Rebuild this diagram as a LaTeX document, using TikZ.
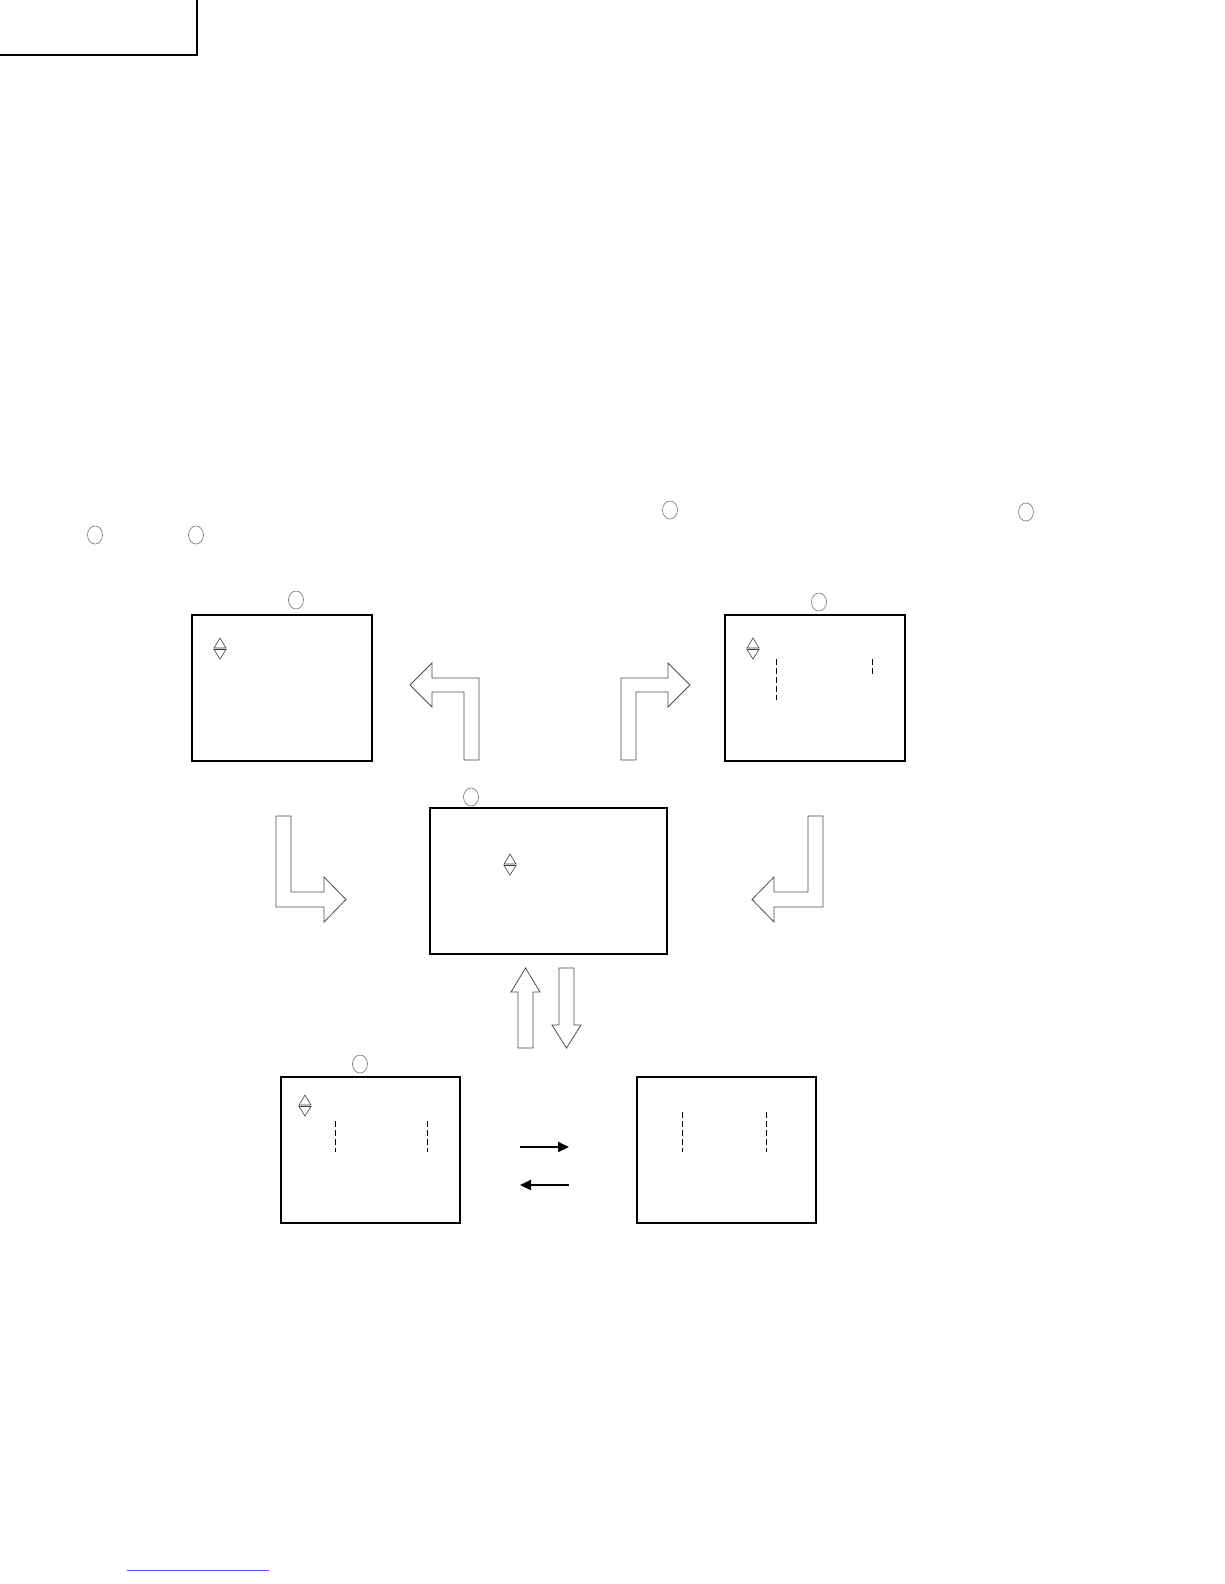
\documentclass[tikz,border=0pt]{standalone}
\usetikzlibrary{arrows.meta,shapes.geometric}

\begin{document}
\begin{tikzpicture}[
    x = 1pt, y = -1pt,
    screen/.style = {draw, line width = 1.1pt, inner sep = 0pt,
        minimum width = 180pt, minimum height = 146pt},
    tag/.style = {ellipse, draw = black!55, line width = 0.6pt, inner sep = 0pt,
        minimum width = 15pt, minimum height = 18pt},
    bigarrow/.style = {draw = black!70, line width = 0.8pt},
    guide/.style = {line width = 1pt, dash pattern = on 6pt off 3pt},
    flow/.style = {line width = 2pt, -{Triangle[length = 11pt, width = 10pt]}},
    updown/.pic = {
        \draw[black!75, line width = 0.6pt] (-6,0) -- (0,-10) -- (6,0) -- cycle;
        \draw[black!75, line width = 0.6pt] (-6,1.5) -- (0,11) -- (6,1.5) -- cycle;
    }
]
\useasboundingbox (0,0) rectangle (1224,1584);

% page corner box
\draw[line width = 1.3pt] (0,55) -- (197,55) -- (197,0);

% marks in the text lines
\node[tag] (t1) at (670,510) {};
\node[tag] (t2) at (1026,512) {};
\node[tag] (t3) at (95,535) {};
\node[tag] (t4) at (196,535) {};

% screens
\node[screen] (scrA) at (282,688) {};
\node[screen] (scrB) at (815,688) {};
\node[screen, minimum width = 237pt] (scrC) at (548.5,881) {};
\node[screen, minimum width = 179pt] (scrD) at (370.5,1150) {};
\node[screen, minimum width = 179pt] (scrE) at (726.5,1150) {};

\node[tag] (tA) at (296,600) {};
\node[tag] (tB) at (819,602) {};
\node[tag] (tC) at (471,797) {};
\node[tag] (tD) at (360,1064) {};

\pic at (220,648) {updown};
\pic at (753,648) {updown};
\pic at (510,864) {updown};
\pic at (305,1105) {updown};

% dashed guides
\draw[guide] (776,659) -- (776,700);
\draw[guide] (872,659) -- (872,677);
\draw[guide] (335,1121) -- (335,1152);
\draw[guide] (427,1121) -- (427,1152);
\draw[guide] (682,1112) -- (682,1152);
\draw[guide] (766,1112) -- (766,1152);

% block arrows
\draw[bigarrow] (479,760) -- (479,678) -- (432,678) -- (432,663) -- (410,685)
    -- (432,707) -- (432,692) -- (464,692) -- (464,760) -- cycle;
\draw[bigarrow] (621,760) -- (621,678) -- (668,678) -- (668,663) -- (690,685)
    -- (668,707) -- (668,692) -- (636,692) -- (636,760) -- cycle;
\draw[bigarrow] (276,816) -- (276,907) -- (324,907) -- (324,922) -- (346,899.5)
    -- (324,877) -- (324,892) -- (291,892) -- (291,816) -- cycle;
\draw[bigarrow] (823,816) -- (823,907) -- (774,907) -- (774,922) -- (752,899.5)
    -- (774,877) -- (774,892) -- (808,892) -- (808,816) -- cycle;
\draw[bigarrow] (518,1048) -- (518,992) -- (511,992) -- (525.5,968) -- (540,992)
    -- (533,992) -- (533,1048) -- cycle;
\draw[bigarrow] (559,968) -- (574,968) -- (574,1025) -- (581,1025) -- (566.5,1048)
    -- (552,1025) -- (559,1025) -- cycle;

% D <-> E
\coordinate (fwdL) at (520,1147);
\coordinate (fwdR) at (569,1147);
\coordinate (bckL) at (520,1185);
\coordinate (bckR) at (569,1185);
\draw[flow] (fwdL) -- (fwdR);
\draw[flow] (bckR) -- (bckL);

% link underline
\draw[blue!70, line width = 0.8pt] (127,1570) -- (269,1570);
\end{tikzpicture}
\end{document}
